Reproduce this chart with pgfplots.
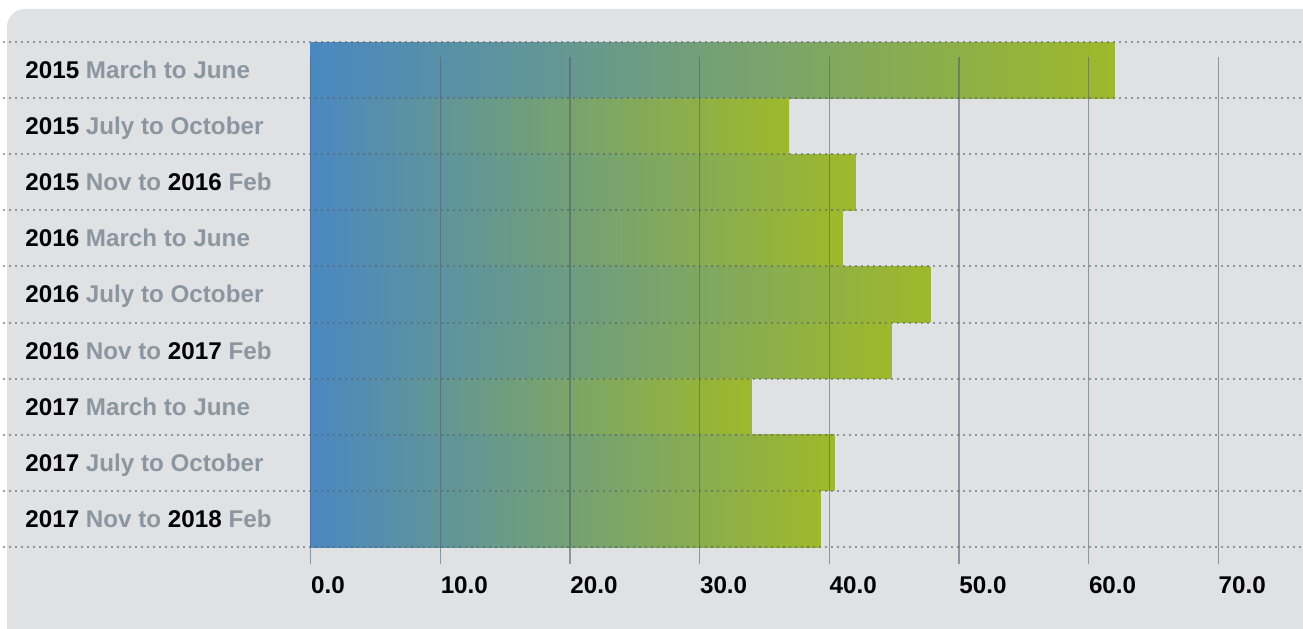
\documentclass[border=0pt]{standalone}
\usepackage{pgfplots}
\pgfplotsset{compat=1.18}
\usepackage{fontspec}
\setmainfont{Liberation Sans}

\definecolor{panelgray}{HTML}{E0E1E3}
\definecolor{labgray}{HTML}{8A96A1}
\definecolor{barblue}{HTML}{4A88C1}
\definecolor{bargreen}{HTML}{9EB92A}
\definecolor{rulecol}{HTML}{55616D}

\pgfplotsset{
  gradbar/.style={xbar, bar width=1, bar shift=0, draw=none, mark=none,
                  left color=barblue, right color=bargreen},
}

\begin{document}
\begin{tikzpicture}
  % canvas and rounded panel
  \useasboundingbox (0,0) rectangle (651.5bp,314.5bp);
  \clip (0,0) rectangle (651.5bp,314.5bp);
  \fill[panelgray, rounded corners=9bp] (3.5bp,-30bp) rectangle (700bp,310bp);

  \begin{axis}[
    at={(155.35bp,41bp)}, anchor=south west,
    scale only axis,
    width=453.8bp, height=252.5bp,
    xmin=0, xmax=70,
    ymin=-0.5, ymax=8.5,
    y dir=reverse,
    clip=false,
    axis line style={draw=none},
    major tick length=0pt,
    tick style={draw=none},
    font=\fontsize{12.1bp}{14bp}\selectfont\bfseries,
    xtick={0,10,...,70},
    xticklabels={0.0,10.0,20.0,30.0,40.0,50.0,60.0,70.0},
    xticklabel style={anchor=north west, inner sep=0pt, yshift=-14.5bp, text=black},
    ytick={0,...,8},
    yticklabels={
      {2015 \textcolor{labgray}{March to June}},
      {2015 \textcolor{labgray}{July to October}},
      {2015 \textcolor{labgray}{Nov to} 2016 \textcolor{labgray}{Feb}},
      {2016 \textcolor{labgray}{March to June}},
      {2016 \textcolor{labgray}{July to October}},
      {2016 \textcolor{labgray}{Nov to} 2017 \textcolor{labgray}{Feb}},
      {2017 \textcolor{labgray}{March to June}},
      {2017 \textcolor{labgray}{July to October}},
      {2017 \textcolor{labgray}{Nov to} 2018 \textcolor{labgray}{Feb}}
    },
    yticklabel style={anchor=base west, inner sep=0pt, xshift=-142.85bp, yshift=-4.2bp, text=black},
  ]
    % one plot per period so that each bar carries its own gradient
    \addplot[gradbar] coordinates {(62.0,0)};
    \addplot[gradbar] coordinates {(36.9,1)};
    \addplot[gradbar] coordinates {(42.0,2)};
    \addplot[gradbar] coordinates {(41.0,3)};
    \addplot[gradbar] coordinates {(47.8,4)};
    \addplot[gradbar] coordinates {(44.8,5)};
    \addplot[gradbar] coordinates {(34.0,6)};
    \addplot[gradbar] coordinates {(40.4,7)};
    \addplot[gradbar] coordinates {(39.3,8)};

    % vertical grid rules, running a little below the last row
    \pgfplotsinvokeforeach{0,10,...,70}{
      \draw[rulecol, opacity=0.6, line width=0.75bp]
        (axis cs:#1,-0.233) -- (axis cs:#1,8.803);
    }
    % dotted row separators across the whole panel
    \pgfplotsinvokeforeach{-0.5,0.5,...,8.5}{
      \draw[rulecol, opacity=0.6, line width=1bp, dash pattern=on 1bp off 2bp]
        (axis cs:-24.2,#1) -- (axis cs:76.6,#1);
    }
  \end{axis}
\end{tikzpicture}
\end{document}
